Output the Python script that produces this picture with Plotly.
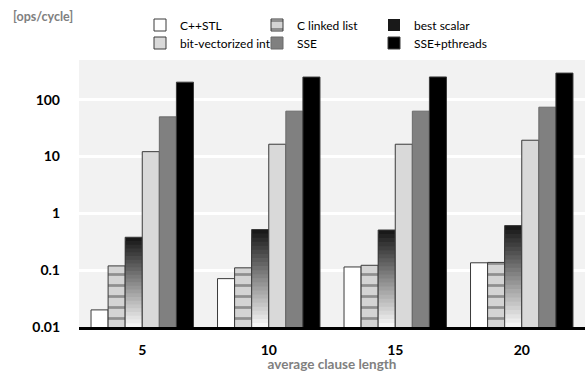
import math
import plotly.graph_objects as go

categories = ["5", "10", "15", "20"]
series_names = ["C++STL", "C linked list", "best scalar",
                "bit-vectorized int", "SSE", "SSE+pthreads"]
cpp_stl = [0.020, 0.071, 0.114, 0.135]
c_linked_list = [0.119, 0.110, 0.122, 0.137]
best_scalar = [0.38, 0.52, 0.51, 0.61]
bit_vectorized_int = [12.2, 16.5, 16.5, 19.4]
sse = [50, 63, 63, 74]
sse_pthreads = [204, 251, 252, 295]
y_tick_vals = [0.01, 0.1, 1, 10, 100]
y_tick_text = ["0.01", "0.1", "1", "10", "100"]

Y_MIN_LOG = -2.0
Y_MAX_LOG = 2.70
FONT = "Lato"
OUTLINE = dict(color="#3a3a3a", width=1)

fig = go.Figure()

def bar(name, vals, marker, legend, group, showlegend=True, line=OUTLINE):
    m = dict(marker)
    m["line"] = line
    fig.add_trace(go.Bar(x=categories, y=vals, name=name, marker=m, legend=legend,
                         offsetgroup=group, showlegend=showlegend))

bar(series_names[0], cpp_stl, dict(color="#ffffff"), "legend", "g1")
bar(series_names[1], c_linked_list,
    dict(color="#d4d4d4", pattern=dict(shape="-", fgcolor="#4a4a4a", bgcolor="#d4d4d4",
                                       size=11, solidity=0.25)),
    "legend", "g2")

# best scalar: vertical dark-to-light shading drawn as overlaid layers of the same bars
N_SHADES = 24
for k in range(N_SHADES):
    frac_top = 1 - k / N_SHADES
    frac_mid = 1 - (k + 0.5) / N_SHADES
    level = int(round(20 + (250 - 20) * (1 - frac_mid)))
    shade = f"rgb({level},{level},{level})"
    layer = [10 ** (Y_MIN_LOG + (math.log10(v) - Y_MIN_LOG) * frac_top) for v in best_scalar]
    bar(series_names[2], layer, dict(color=shade), "legend", "g3",
        showlegend=(k == 0), line=dict(width=0))
bar(series_names[2], best_scalar, dict(color="rgba(0,0,0,0)"), "legend", "g3",
    showlegend=False)

bar(series_names[3], bit_vectorized_int, dict(color="#d9d9d9"), "legend2", "g4")
bar(series_names[4], sse, dict(color="#808080"), "legend2", "g5",
    line=dict(color="#6a6a6a", width=1))
bar(series_names[5], sse_pthreads, dict(color="#000000"), "legend2", "g6",
    line=dict(color="#3a3a3a", width=1))

legend_common = dict(orientation="h", xref="container", yref="container",
                     xanchor="left", yanchor="middle", bgcolor="rgba(0,0,0,0)",
                     font=dict(family=FONT, size=12, color="#000000"),
                     entrywidth=72, itemwidth=30, tracegroupgap=0)
fig.update_layout(
    width=587, height=372,
    margin=dict(l=79, r=2, t=60, b=45, autoexpand=False),
    paper_bgcolor="#ffffff", plot_bgcolor="#f2f2f2",
    barmode="group", bargap=0.19, bargroupgap=0,
    font=dict(family=FONT),
    legend=dict(legend_common, x=140/587, y=1 - 25/372),
    legend2=dict(legend_common, x=140/587, y=1 - 43/372),
    xaxis=dict(showline=True, linecolor="#000000", linewidth=3, ticks="", automargin=False,
               ticklabelstandoff=8,
               tickfont=dict(family=FONT, size=14, color="#000000", weight="bold"),
               title=dict(text="average clause length", standoff=0,
                          font=dict(family=FONT, size=13.5, color="#808080", weight="bold"))),
    yaxis=dict(type="log", range=[Y_MIN_LOG, Y_MAX_LOG], tickvals=y_tick_vals,
               ticktext=y_tick_text, automargin=False,
               showgrid=True, gridcolor="#ffffff", gridwidth=3, zeroline=False,
               tickfont=dict(family=FONT, size=14, color="#000000", weight="bold"),
               ticks="", ticklabelstandoff=18),
    annotations=[dict(text="[ops/cycle]", xref="paper", yref="paper", x=(11 - 79) / 506,
                      y=1 + 44 / 267, xanchor="left", yanchor="middle", showarrow=False,
                      font=dict(family=FONT, size=12.5, color="#808080", weight="bold"))],
    showlegend=True,
)
fig.write_html("out.html", post_script="document.body.style.margin='0';",
               config={"displayModeBar": False})
